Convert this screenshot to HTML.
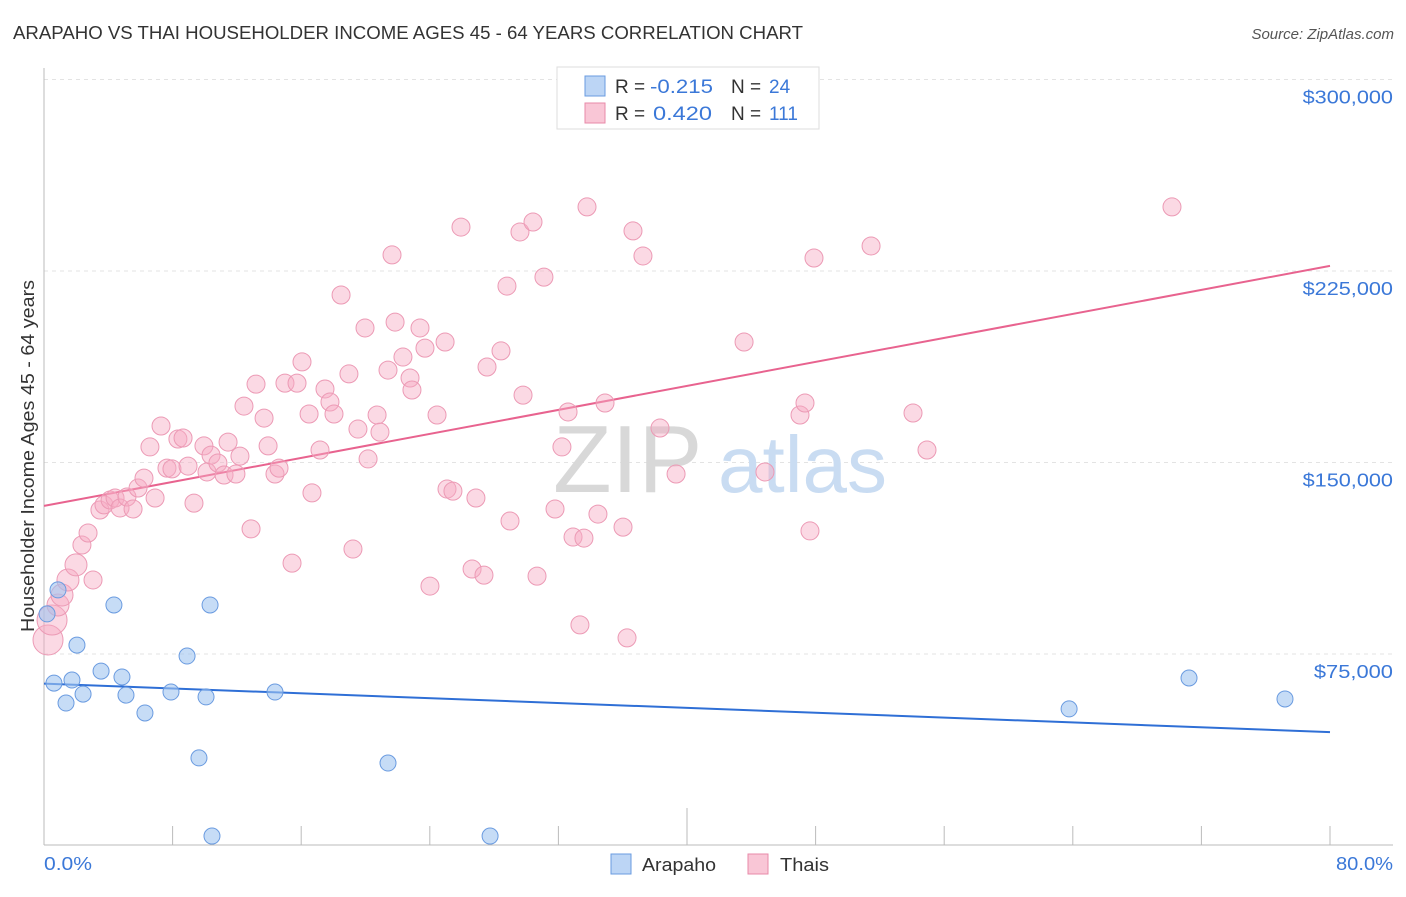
<!DOCTYPE html>
<html><head><meta charset="utf-8">
<style>
body{margin:0;background:#fff;font-family:"Liberation Sans",sans-serif;}
svg text{font-family:"Liberation Sans",sans-serif;}
</style></head>
<body>
<svg id="chart" width="1406" height="892" viewBox="0 0 1406 892" xmlns="http://www.w3.org/2000/svg">
<text x="13" y="39" font-size="18" fill="#333" textLength="790" lengthAdjust="spacingAndGlyphs">ARAPAHO VS THAI HOUSEHOLDER INCOME AGES 45 - 64 YEARS CORRELATION CHART</text>
<text x="1394" y="39" font-size="15" fill="#555" font-style="italic" text-anchor="end">Source: ZipAtlas.com</text>
<g id="grid"></g>
<g>
<text x="553" y="492" font-size="96" font-family="Liberation Serif,serif" fill="#d8d8d8">ZIP</text>
<text x="718" y="492" font-size="80" fill="#c9dcf2">atlas</text>
</g>
<line x1="44" y1="68" x2="44" y2="845" stroke="#bbb"/>
<line x1="44" y1="845" x2="1393" y2="845" stroke="#bbb"/>
<g id="ticks"></g>
<g id="ylabels"></g>
<text transform="translate(34,456) rotate(-90)" font-size="18" fill="#333" text-anchor="middle" textLength="352" lengthAdjust="spacingAndGlyphs">Householder Income Ages 45 - 64 years</text>
<text x="44" y="870" font-size="18" fill="#3b78d8" textLength="48" lengthAdjust="spacingAndGlyphs">0.0%</text>
<text x="1336" y="870" font-size="18" fill="#3b78d8" textLength="57" lengthAdjust="spacingAndGlyphs">80.0%</text>
<g id="lines"></g>
<g id="pts"></g>
<g>
<rect x="557" y="67" width="262" height="62" fill="#fff" stroke="#ddd"/>
<rect x="585" y="76" width="20" height="20" fill="#bcd5f5" stroke="#6a9be0"/>
<text x="615" y="93" font-size="19" fill="#333">R =</text>
<text x="650" y="93" font-size="19" fill="#3b78d8" textLength="63" lengthAdjust="spacingAndGlyphs">-0.215</text>
<text x="731" y="93" font-size="19" fill="#333">N =</text>
<text x="769" y="93" font-size="19" fill="#3b78d8">24</text>
<rect x="585" y="103" width="20" height="20" fill="#f9c6d6" stroke="#e88aa8"/>
<text x="615" y="120" font-size="19" fill="#333">R =</text>
<text x="653" y="120" font-size="19" fill="#3b78d8" textLength="59" lengthAdjust="spacingAndGlyphs">0.420</text>
<text x="731" y="120" font-size="19" fill="#333">N =</text>
<text x="769" y="120" font-size="19" fill="#3b78d8">111</text>
</g>
<g>
<rect x="611" y="854" width="20" height="20" fill="#bcd5f5" stroke="#6a9be0"/>
<text x="642" y="871" font-size="18" fill="#333" textLength="74" lengthAdjust="spacingAndGlyphs">Arapaho</text>
</g>
<g>
<rect x="748" y="854" width="20" height="20" fill="#f9c6d6" stroke="#e88aa8"/>
<text x="780" y="871" font-size="18" fill="#333" textLength="49" lengthAdjust="spacingAndGlyphs">Thais</text>
</g>
</svg>
<script>
const yTicks=[75000,150000,225000,300000];
const yTickLabels=["$75,000","$150,000","$225,000","$300,000"];
const xTicks=[8,16,24,32,40,48,56,64,72,80];
const arapahoX=[0.19,0.87,0.62,1.37,1.74,2.05,2.43,3.55,4.35,4.85,5.10,6.28,7.90,8.90,9.64,10.08,10.33,10.45,14.37,21.40,27.75,63.77,71.23,77.20];
const arapahoY=[90.7,100.1,63.6,55.8,64.8,78.5,59.3,68.3,94.2,66.0,58.9,51.9,60.1,74.2,34.3,58.2,94.2,3.7,60.1,32.3,3.7,53.5,65.6,57.4];
const thaiX=[0.25,0.50,0.87,1.12,1.49,1.99,2.36,2.74,3.05,3.48,3.73,4.11,4.42,4.73,5.16,5.54,5.85,6.22,6.59,6.91,7.28,7.65,7.96,8.33,8.65,8.96,9.33,9.95,10.14,10.39,10.82,11.20,11.45,11.94,12.19,12.44,13.19,13.69,12.88,13.94,14.37,14.62,14.99,15.43,15.74,16.05,16.49,16.67,17.17,17.48,17.79,18.04,18.48,18.97,19.22,19.53,19.97,20.16,20.72,20.90,21.40,21.65,21.84,22.33,22.77,22.89,23.39,23.70,24.01,24.45,24.95,25.07,25.44,25.94,26.63,26.87,27.37,27.56,28.43,28.80,28.99,29.80,29.61,30.42,30.67,31.10,31.79,32.22,32.60,32.91,33.34,33.59,33.78,34.46,34.90,36.02,36.27,36.64,37.26,38.32,39.32,43.55,44.85,47.03,47.34,47.65,47.90,51.45,54.06,54.93,70.17];
const thaiY=[80.5,88.3,94.2,98.1,104.0,109.9,117.7,122.4,104.0,131.4,133.4,135.3,136.1,132.2,136.5,131.8,140.0,143.9,156.1,136.1,164.3,147.8,147.5,159.2,159.6,148.6,134.1,156.5,146.3,152.9,149.8,145.1,158.0,145.5,152.5,172.1,180.7,167.4,124.0,156.5,145.5,147.8,181.1,110.6,181.1,189.4,169.0,138.1,154.9,178.8,173.7,169.0,215.6,184.7,116.1,163.1,202.7,151.4,168.6,161.9,186.2,231.3,205.0,191.3,183.1,178.4,202.7,194.8,101.6,168.6,197.2,139.6,138.8,242.2,108.3,136.1,105.9,187.4,193.7,219.1,127.1,176.4,240.3,244.2,105.5,222.6,131.8,156.1,169.8,120.8,86.4,120.4,250.1,129.8,173.3,124.7,81.3,240.7,230.9,163.5,145.5,197.2,146.3,168.6,173.3,123.2,230.1,234.8,169.4,154.9,250.1];
const thaiTrend=[133.0,227.0];
const arapahoTrend=[63.4,44.4];
const NS="http://www.w3.org/2000/svg";
const X=v=>44+v*16.075;
const Y=v=>845.5-v/1000*2.5533;
function mk(tag,attrs,parent){const e=document.createElementNS(NS,tag);for(const k in attrs)e.setAttribute(k,attrs[k]);parent.appendChild(e);return e;}
const grid=document.getElementById('grid'),yl=document.getElementById('ylabels');
yTicks.forEach((t,i)=>{
 const l=mk('line',{x1:44,x2:1393,y1:Y(t),y2:Y(t),stroke:'#e3e3e3','stroke-dasharray':'4,4'},grid);
 
 
 const w=yTickLabels[i].length*11.3;
 const tx=mk('text',{x:1393-w,y:Y(t)+24,'font-size':18,fill:'#3b78d8',textLength:w,lengthAdjust:'spacingAndGlyphs'},yl);
 tx.textContent=yTickLabels[i];
 
 
});
const tg=document.getElementById('ticks');
xTicks.forEach(t=>{
 const l=mk('line',{x1:X(t),x2:X(t),y1:t===40?808:826,y2:845,stroke:'#bbb'},tg);
 
 
});
const lg=document.getElementById('lines');
const tl=mk('line',{x1:X(0),y1:Y(thaiTrend[0]*1000),x2:X(80),y2:Y(thaiTrend[1]*1000),stroke:'#e8638f','stroke-width':2},lg);


const al=mk('line',{x1:X(0),y1:Y(arapahoTrend[0]*1000),x2:X(80),y2:Y(arapahoTrend[1]*1000),stroke:'#2f6fd6','stroke-width':2},lg);


const pg=document.getElementById('pts');
thaiX.forEach((x,i)=>{
 const r=i<2?15:(i<6?11:9);
 const c=mk('circle',{cx:X(x),cy:Y(thaiY[i]*1000),r:r,fill:'rgba(247,170,196,0.45)',stroke:'#ec9ab5','stroke-width':1},pg);
 
 
});
arapahoX.forEach((x,i)=>{
 const c=mk('circle',{cx:X(x),cy:Y(arapahoY[i]*1000),r:8,fill:'rgba(160,196,240,0.6)',stroke:'#6a9be0','stroke-width':1},pg);
 
 
});
</script>
</body></html>
